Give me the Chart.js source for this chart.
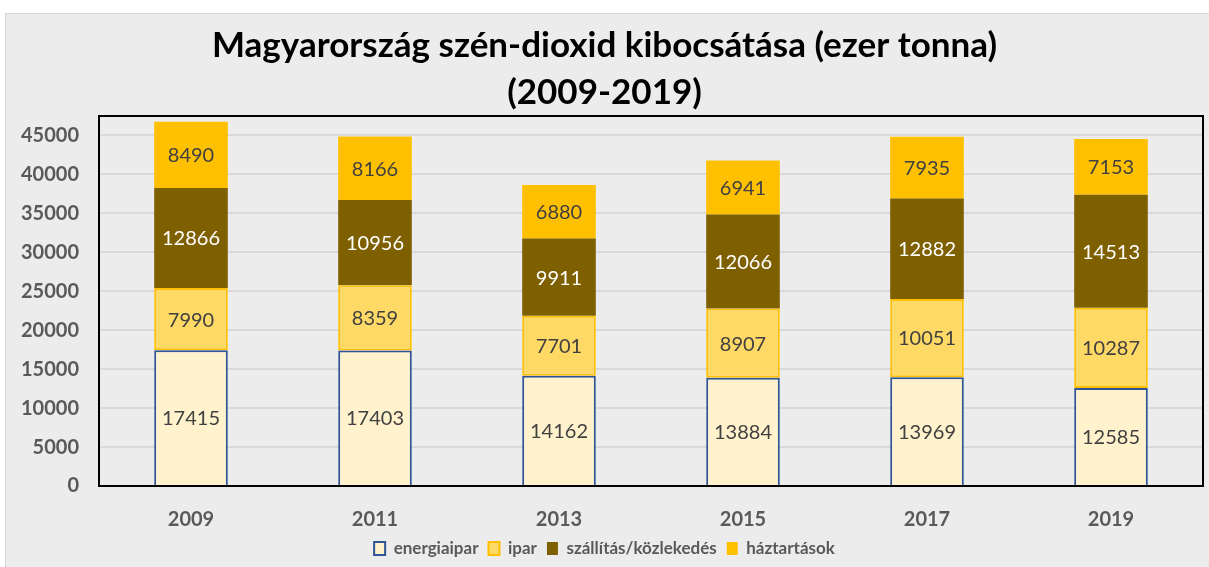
<!DOCTYPE html>
<html>
<head>
<meta charset="utf-8">
<script src="https://cdn.jsdelivr.net/npm/chart.js@4"></script>
<style>
  html, body { margin: 0; padding: 0; background: #ffffff; }
  #wrap {
    position: absolute; left: 5px; top: 13px;
    width: 1204px; height: 554px;
    background: #ececec;
    border-left: 1px solid #d6d6d6; border-top: 1px solid #d6d6d6;
    box-sizing: border-box;
  }
</style>
</head>
<body>
<div id="wrap"><canvas id="myChart"></canvas></div>
<script>
const years = ['2009', '2011', '2013', '2015', '2017', '2019'];
const energiaipar = [17415, 17403, 14162, 13884, 13969, 12585];
const ipar = [7990, 8359, 7701, 8907, 10051, 10287];
const szallitas = [12866, 10956, 9911, 12066, 12882, 14513];
const haztartasok = [8490, 8166, 6880, 6941, 7935, 7153];
const yTicks = [0, 5000, 10000, 15000, 20000, 25000, 30000, 35000, 40000, 45000];

const FONT = 'Lato, "Open Sans", sans-serif';

// keret a rajzterület körül
const plotBorder = {
    id: 'plotBorder',
    afterDatasetsDraw(chart) {
        const a = chart.chartArea;
        const ctx = chart.ctx;
        ctx.save();
        ctx.strokeStyle = '#000000';
        ctx.lineWidth = 2;
        ctx.strokeRect(a.left, a.top, a.right - a.left, a.bottom - a.top);
        ctx.restore();
    }
};

// értékek a szeletek közepén
const valueLabels = {
    id: 'valueLabels',
    afterDatasetsDraw(chart) {
        const ctx = chart.ctx;
        ctx.save();
        ctx.font = '20px ' + FONT;
        ctx.textAlign = 'center';
        ctx.textBaseline = 'middle';
        chart.data.datasets.forEach((ds, i) => {
            const meta = chart.getDatasetMeta(i);
            meta.data.forEach((bar, j) => {
                const p = bar.getProps(['x', 'y', 'base'], true);
                ctx.fillStyle = ds.labelColor;
                ctx.fillText(ds.data[j], p.x, (p.y + p.base) / 2 + 1);
            });
        });
        ctx.restore();
    }
};

const data = {
    labels: years,
    datasets: [
        { label: 'energiaipar', data: energiaipar, backgroundColor: '#fff2cc',
          borderColor: '#2f5597', borderWidth: 2, borderSkipped: 'start', labelColor: '#404040' },
        { label: 'ipar', data: ipar, backgroundColor: '#ffd966',
          borderColor: '#ffc000', borderWidth: 2, borderSkipped: false, labelColor: '#404040' },
        { label: 'szállítás/közlekedés', data: szallitas, backgroundColor: '#7f6000',
          borderColor: '#7f6000', borderWidth: 0, labelColor: '#ffffff' },
        { label: 'háztartások', data: haztartasok, backgroundColor: '#ffc000',
          borderColor: '#ffc000', borderWidth: 0, labelColor: '#404040' }
    ]
};

const config = {
    type: 'bar',
    data: data,
    options: {
        responsive: true,
        maintainAspectRatio: false,
        animation: false,
        layout: { padding: { left: 0, right: 6, top: 0, bottom: 0 } },
        datasets: { bar: { barPercentage: 0.4, categoryPercentage: 1 } },
        scales: {
            x: {
                stacked: true,
                afterFit: scale => { scale.height = 44; },
                grid: { display: false, drawTicks: false },
                border: { display: false },
                ticks: { color: '#595959', font: { family: FONT, size: 20, weight: 'bold' }, padding: 22 }
            },
            y: {
                stacked: true,
                min: 0,
                max: 47500,
                afterBuildTicks: scale => { scale.ticks = yTicks.map(v => ({ value: v })); },
                afterFit: scale => { scale.width = 93; },
                grid: { color: '#d9d9d9', lineWidth: 2, drawTicks: false },
                border: { display: false },
                ticks: { color: '#595959', padding: 20, callback: v => String(v),
                         font: { family: FONT, size: 20, weight: 'bold' } }
            }
        },
        plugins: {
            title: {
                display: true,
                text: ['Magyarország szén-dioxid kibocsátása (ezer tonna)', '(2009-2019)'],
                color: '#000000',
                font: { family: FONT, size: 35, weight: 'bold', lineHeight: 1.343 },
                padding: { top: 8, bottom: 0 }
            },
            legend: {
                position: 'bottom',
                labels: { color: '#595959', boxWidth: 11, boxHeight: 13, padding: 10,
                          font: { family: FONT, size: 17, weight: 'bold' } }
            },
            tooltip: { enabled: false }
        }
    },
    plugins: [plotBorder, valueLabels]
};

const myChart = new Chart(document.getElementById('myChart'), config);
</script>
</body>
</html>
